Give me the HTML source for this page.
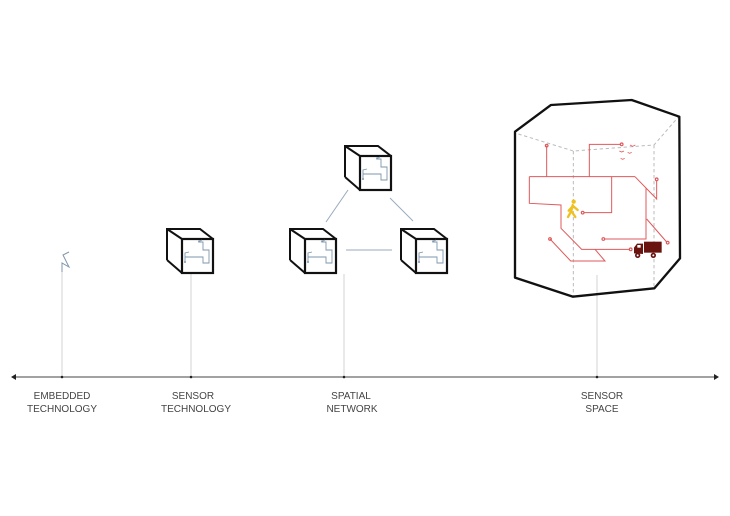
<!DOCTYPE html>
<html><head><meta charset="utf-8"><style>
html,body{margin:0;padding:0;background:#fff;}
svg{display:block;}
text{font-family:"Liberation Sans",sans-serif;font-size:10px;fill:#444;text-anchor:middle;}
</style></head><body>
<svg width="730" height="516" viewBox="0 0 730 516" xmlns="http://www.w3.org/2000/svg">
<defs>
<g id="cube">
  <path d="M0,31 L0,0 L33,0 L46,10 M0,0 L15,10 M0,31 L15,44" fill="none" stroke="#111" stroke-width="2"/>
  <rect x="15" y="10" width="31" height="34" fill="none" stroke="#111" stroke-width="2.2"/>
  <path d="M18,33 L18,24 L22,23 M18,28 L36,28 L36,34 L42,34 L42,21 L36,21 L36,13 L32,13 L32,11 M31,13 L35,11" fill="none" stroke="#7d96ad" stroke-width="0.9"/>
  <circle cx="18" cy="33" r="1" fill="#7d96ad"/>
</g>
</defs>
<g stroke="#c8c8c8" stroke-width="0.8">
<line x1="62" y1="270" x2="62" y2="377"/>
<line x1="191" y1="274" x2="191" y2="377"/>
<line x1="344" y1="274" x2="344" y2="377"/>
<line x1="597" y1="275" x2="597" y2="377"/>
</g>
<line x1="14" y1="377" x2="716" y2="377" stroke="#444" stroke-width="1"/>
<path d="M11,377 L16,374 L16,380 Z M719,377 L714,374 L714,380 Z" fill="#222"/>
<g fill="#222"><circle cx="62" cy="377" r="1.3"/><circle cx="191" cy="377" r="1.3"/><circle cx="344" cy="377" r="1.3"/><circle cx="597" cy="377" r="1.3"/></g>
<text x="62" y="399">EMBEDDED</text><text x="62" y="412">TECHNOLOGY</text>
<text x="193" y="399">SENSOR</text><text x="196" y="412">TECHNOLOGY</text>
<text x="351" y="399">SPATIAL</text><text x="352" y="412">NETWORK</text>
<text x="602" y="399">SENSOR</text><text x="602" y="412">SPACE</text>
<path d="M62,272 L62,263 L69,267 L63,255 L69,252" fill="none" stroke="#7d96ad" stroke-width="1"/>
<use href="#cube" x="167" y="229"/>
<use href="#cube" x="345" y="146"/>
<use href="#cube" x="290" y="229"/>
<use href="#cube" x="401" y="229"/>
<g stroke="#9aabbb" stroke-width="1">
<line x1="348" y1="190" x2="326" y2="222"/>
<line x1="390" y1="198" x2="413" y2="221"/>
<line x1="346" y1="250" x2="392" y2="250"/>
</g>
<g transform="translate(500,95) scale(0.33333)">
  <path d="M55,117 L220,168 L462,150 L536,65 M220,168 L220,605 M462,150 L462,580" fill="none" stroke="#bbb" stroke-width="3" stroke-dasharray="10,8"/>
  <path d="M45,110 L153,30 L395,15 L538,65 L540,490 L463,580 L218,605 L45,548 Z" fill="none" stroke="#111" stroke-width="7" stroke-linejoin="round"/>
  <g fill="none" stroke="#e0595b" stroke-width="3">
    <path d="M140,152 L140,245 M88,245 L405,245 M88,245 L88,325 L183,330 L183,400 L245,463 L389,463"/>
    <path d="M268,245 L268,148 L361,148 M335,245 L335,353 L251,353"/>
    <path d="M405,245 L470,312 L470,256 M438,280 L438,432 L313,432 M440,372 L500,441"/>
    <path d="M150,432 L212,498 L315,498 L285,463"/>
    <g stroke-width="3.5"><circle cx="140" cy="152" r="4"/><circle cx="365" cy="148" r="4"/><circle cx="248" cy="353" r="4"/><circle cx="470" cy="253" r="4"/><circle cx="310" cy="432" r="4"/><circle cx="503" cy="443" r="4"/><circle cx="392" cy="463" r="4"/><circle cx="150" cy="432" r="4"/></g>
    <path d="M390,150 l8,4 l8,-4 M358,168 l7,3 l7,-3 M383,172 l6,3 l6,-3 M362,190 l6,3 l6,-3" stroke-width="2.5"/>
  </g>
  <g fill="#f0c020" stroke="#f0c020">
    <circle cx="221" cy="320" r="6"/>
    <path d="M218,330 L214,348 L204,366 M214,348 L226,366 M218,332 L233,345 M218,334 L206,347" stroke-width="7" fill="none" stroke-linecap="round"/>
  </g>
  <g fill="#6a1410">
    <rect x="432" y="440" width="53" height="33"/>
    <path d="M402,475 L402,458 L411,446 L429,446 L429,477 Z"/>
    <circle cx="413" cy="481" r="8"/><circle cx="460" cy="481" r="8"/>
  </g>
  <g fill="#fff"><circle cx="413" cy="481" r="3"/><circle cx="460" cy="481" r="3"/><rect x="412" y="450" width="10" height="8"/></g>
</g>
</svg>
</body></html>
